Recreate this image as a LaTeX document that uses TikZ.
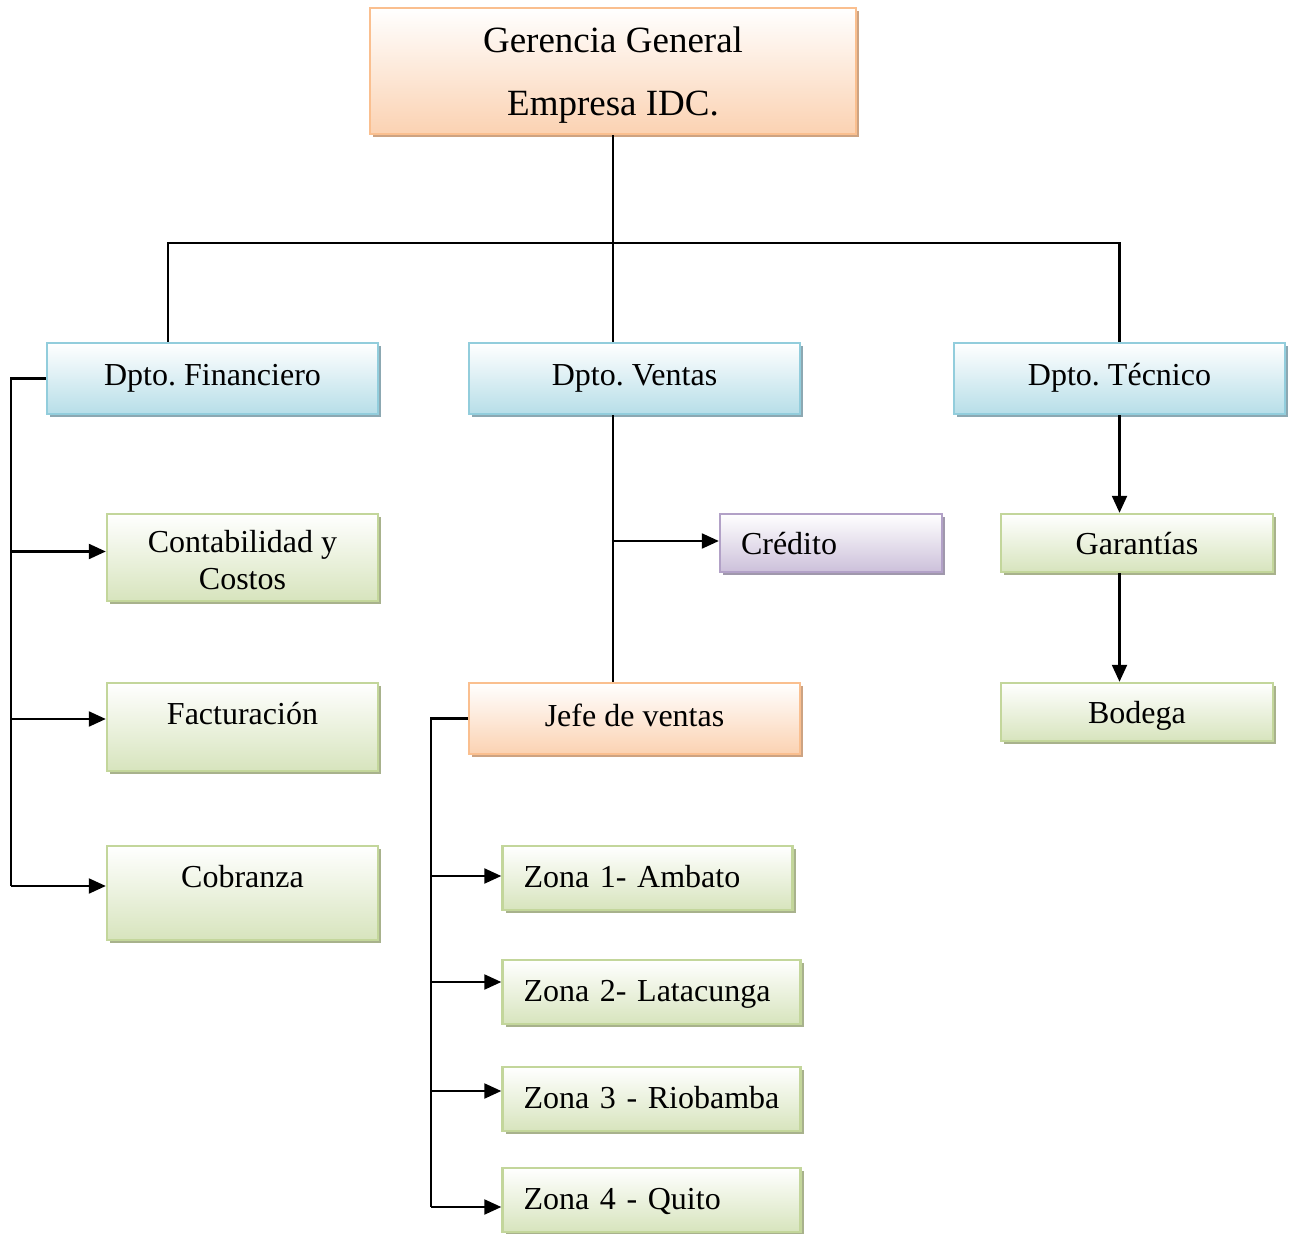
\documentclass[tikz,border=0pt]{standalone}
\usepackage{fontspec}
\setmainfont{Liberation Serif}
\usepackage{tikz}
\usetikzlibrary{arrows.meta, shadows}
\frenchspacing
\definecolor{naranjaBorde}{RGB}{250,191,143}
\definecolor{naranjaFondo}{RGB}{251,210,178}
\definecolor{naranjaSombra}{RGB}{205,163,130}
\definecolor{azulBorde}{RGB}{146,205,220}
\definecolor{azulFondo}{RGB}{183,222,232}
\definecolor{azulSombra}{RGB}{140,168,178}
\definecolor{verdeBorde}{RGB}{195,214,155}
\definecolor{verdeFondo}{RGB}{215,228,189}
\definecolor{verdeSombra}{RGB}{168,178,140}
\definecolor{lilaBorde}{RGB}{178,161,199}
\definecolor{lilaFondo}{RGB}{204,192,218}
\definecolor{lilaSombra}{RGB}{160,152,172}
\tikzstyle{box} = [
	rectangle,
	line width=1.2pt,
	inner xsep=0pt,
	inner ysep=0pt,
	font=\fontsize{16}{18.25}\selectfont
]
\tikzstyle{row} = [text height=11pt, text depth=3.5pt]
\tikzstyle{lowrow} = [text height=15pt, text depth=3.5pt]
\tikzstyle{leftrow} = [text height=12.5pt, text depth=3.5pt, inner xsep=10.5pt, align=left]
\tikzstyle{naranja} = [box, draw=naranjaBorde, top color=white, bottom color=naranjaFondo,
	drop shadow={shadow xshift=1.5pt, shadow yshift=-1.5pt, fill=naranjaSombra, opacity=1}]
\tikzstyle{azul} = [box, draw=azulBorde, top color=white, bottom color=azulFondo,
	drop shadow={shadow xshift=1.5pt, shadow yshift=-1.5pt, fill=azulSombra, opacity=1}]
\tikzstyle{verde} = [box, draw=verdeBorde, top color=white, bottom color=verdeFondo,
	drop shadow={shadow xshift=1.5pt, shadow yshift=-1.5pt, fill=verdeSombra, opacity=1}]
\tikzstyle{lila} = [box, draw=lilaBorde, top color=white, bottom color=lilaFondo,
	drop shadow={shadow xshift=1.5pt, shadow yshift=-1.5pt, fill=lilaSombra, opacity=1}]
\tikzstyle{link} = [line width=1.1pt]
\tikzstyle{arrow} = [link, -{Triangle[length=8.5pt,width=7.5pt]}]

\begin{document}
\begin{tikzpicture}[x=0.5pt, y=-0.5pt]
    \useasboundingbox (0, 0) rectangle (1294, 1234);
    % gerencia
    \node[naranja, minimum width=243pt, minimum height=63pt, align=center,
      font=\fontsize{18.5}{31.5}\selectfont] (gerencia) at (613, 71) {\rule{0pt}{16.6pt}Gerencia General\\Empresa IDC.};
    % departamentos
    \node[azul, row, minimum width=165.5pt, minimum height=35.5pt] (financiero) at (212.5, 378.5) {Dpto. Financiero};
    \node[azul, row, minimum width=165.5pt, minimum height=35.5pt] (ventas) at (634.5, 378.5) {Dpto. Ventas};
    \node[azul, row, minimum width=165.5pt, minimum height=35.5pt] (tecnico) at (1119.5, 378.5) {Dpto. Técnico};
    % financiero
    \node[verde, align=center, minimum width=135.5pt, minimum height=43.5pt] (contab) at (242.5, 557.5) {\rule{0pt}{13.5pt}Contabilidad y\\Costos};
    \node[verde, row, text depth=13.5pt, minimum width=135.5pt, minimum height=44pt] (factur) at (242.5, 727) {Facturación};
    \node[verde, row, text depth=16.5pt, minimum width=135.5pt, minimum height=47pt] (cobranza) at (242.5, 893) {Cobranza};
    % ventas
    \node[lila, lowrow, inner xsep=10.5pt, align=left, text width=90pt, minimum height=29pt] (credito) at (831, 543) {Crédito};
    \node[naranja, row, minimum width=165.5pt, minimum height=35.5pt] (jefe) at (634.5, 718.5) {Jefe de ventas};
    \node[verde, leftrow, text width=124pt, minimum height=32pt] (zona1) at (647.5, 878) {Zona 1- Ambato};
    \node[verde, leftrow, text width=128pt, minimum height=32pt] (zona2) at (651.5, 992) {Zona 2- Latacunga};
    \node[verde, leftrow, text width=128pt, minimum height=32pt] (zona3) at (651.5, 1099) {Zona 3 - Riobamba};
    \node[verde, leftrow, text width=128pt, minimum height=32pt] (zona4) at (651.5, 1200) {Zona 4 - Quito};
    % tecnico
    \node[verde, lowrow, minimum width=136pt, minimum height=29pt] (garantias) at (1137, 543) {Garantías};
    \node[verde, lowrow, minimum width=136pt, minimum height=29pt] (bodega) at (1137, 712) {Bodega};
    % conectores
    \coordinate (bus) at (613, 243);
    \draw[link] (gerencia.south) -- ([xshift=-10.75pt]ventas.north);
    \draw[link] ([xshift=-22.25pt]financiero.north) |- (bus) -| (tecnico.north);
    \draw[link] (financiero.west) -- ++(-17.5pt, 0) -- ([xshift=-47.5pt, yshift=3.5pt]cobranza.west);
    \foreach \n/\s in {contab/3pt, factur/4pt, cobranza/3.5pt}
      \draw[arrow] ([xshift=-47.5pt, yshift=\s]\n.west) -- ([yshift=\s]\n.west);
    \draw[link] ([xshift=-10.75pt]ventas.south) -- ([xshift=-10.75pt]jefe.north);
    \draw[arrow] ([xshift=-53.5pt, yshift=1pt]credito.west) -- ([yshift=1pt]credito.west);
    \draw[link] (jefe.west) -- ++(-18.25pt, 0) -- ([xshift=-35pt, yshift=-3.5pt]zona4.west);
    \foreach \n/\s in {zona1/1pt, zona2/5pt, zona3/4pt, zona4/-3.5pt}
      \draw[arrow] ([xshift=-35pt, yshift=\s]\n.west) -- ([yshift=\s]\n.west);
    \draw[arrow] (tecnico.south) -- (tecnico.south |- garantias.north);
    \draw[arrow] (tecnico.south |- garantias.south) -- (tecnico.south |- bodega.north);
\end{tikzpicture}
\end{document}
